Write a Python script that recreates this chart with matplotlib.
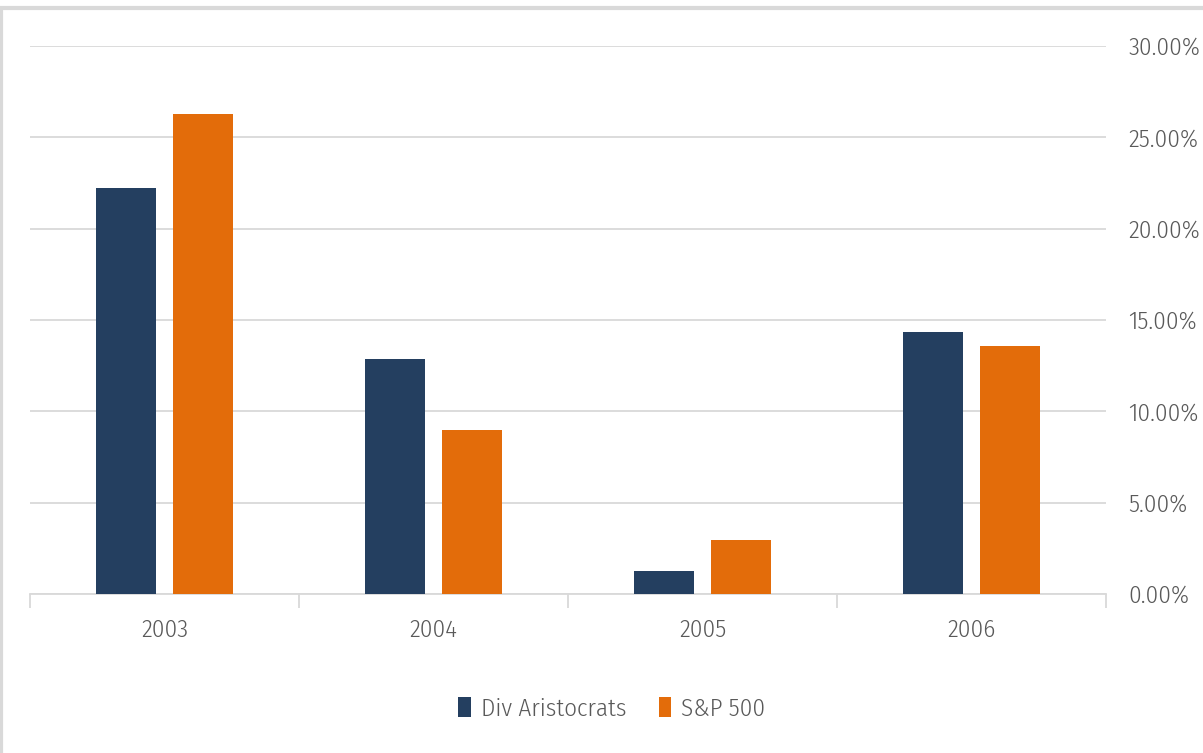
import matplotlib
matplotlib.use("Agg")
import matplotlib.pyplot as plt
from matplotlib import font_manager
from matplotlib.patches import Rectangle
from matplotlib.ticker import FuncFormatter
import numpy as np

years = ["2003", "2004", "2005", "2006"]
div_aristocrats = [22.2, 12.85, 1.25, 14.35]
sp500 = [26.3, 9.0, 2.95, 13.6]

# pick a light / regular condensed sans that is actually installed
fam, wt = "DejaVu Sans", 400
prefs = ["Open Sans Condensed Light", "Open Sans Condensed", "Fira Sans Condensed",
         "Encode Sans Condensed", "Barlow Semi Condensed", "Archivo Narrow"]
found = False
for p in prefs:
    for want in (300, 400):
        for f in font_manager.fontManager.ttflist:
            if f.name == p and f.style == "normal" and f.weight == want:
                fam, wt = p, want
                found = True
                break
        if found:
            break
    if found:
        break
plt.rcParams["font.family"] = [fam, "DejaVu Sans"]
plt.rcParams["font.weight"] = wt

navy = "#243f60"
orange = "#e36c0a"
grid = "#d9d9d9"
text = "#595959"

fig = plt.figure(figsize=(12.03, 7.53), dpi=100)
ax = fig.add_axes([30 / 1203, 159 / 753, 1076 / 1203, 548 / 753])

x = np.arange(len(years))
w = 0.22
ax.bar(x - 0.143, div_aristocrats, w, color=navy, label="Div Aristocrats", zorder=3)
ax.bar(x + 0.143, sp500, w, color=orange, label="S&P 500", zorder=3)

ax.set_xlim(-0.5, len(years) - 0.5)
ax.set_ylim(0, 30)
ax.set_yticks(np.arange(0, 31, 5))
ax.yaxis.set_major_formatter(FuncFormatter(lambda v, p: f"{v:.2f}%"))
ax.yaxis.tick_right()
ax.tick_params(axis="y", length=0, pad=16, labelsize=18, labelcolor=text)
ax.grid(axis="y", color=grid, linewidth=1.3, zorder=0)

ax.set_xticks(x)
ax.set_xticklabels(years)
ax.tick_params(axis="x", length=0, pad=18, labelsize=18, labelcolor=text)
ax.set_xticks(np.arange(-0.5, len(years)), minor=True)
ax.tick_params(axis="x", which="minor", length=10, color=grid, width=1.3)

for s in ["top", "right", "left"]:
    ax.spines[s].set_visible(False)
ax.spines["bottom"].set_color(grid)
ax.spines["bottom"].set_linewidth(1.3)

fig.legend(loc="center", bbox_to_anchor=(612 / 1203, 1 - 709 / 753), ncol=2, frameon=False,
           fontsize=18, labelcolor=text, handlelength=0.5, handleheight=0.85,
           handletextpad=0.4, columnspacing=1.3)

fig.patches.append(Rectangle((0.001, -0.05), 1.1, 1.04, transform=fig.transFigure,
                             fill=False, edgecolor="#d9d9d9", linewidth=3))

fig.savefig("out.png", dpi=100)
